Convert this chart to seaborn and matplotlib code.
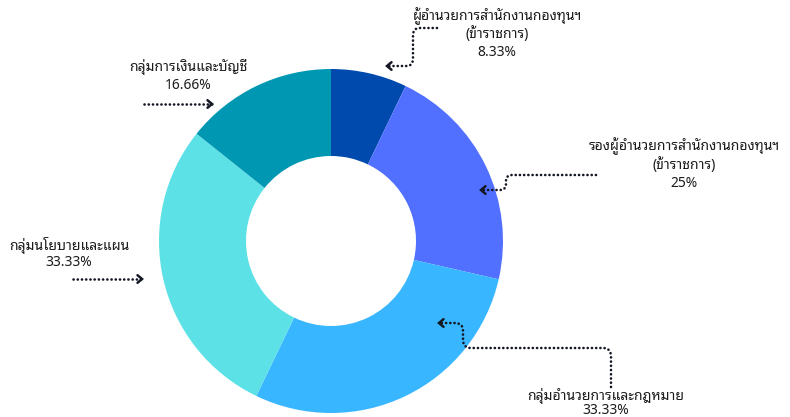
import matplotlib
matplotlib.use("Agg")
import matplotlib.pyplot as plt
from matplotlib.path import Path
from matplotlib.patches import PathPatch
import numpy as np
import seaborn as sns

# ---- data ----
categories = ["ผู้อำนวยการสำนักงานกองทุนฯ\n(ข้าราชการ)",
              "รองผู้อำนวยการสำนักงานกองทุนฯ\n(ข้าราชการ)",
              "กลุ่มอำนวยการและกฎหมาย",
              "กลุ่มนโยบายและแผน",
              "กลุ่มการเงินและบัญชี"]
values = [8.33, 25, 33.33, 33.33, 16.66]
value_labels = ["8.33%", "25%", "33.33%", "33.33%", "16.66%"]
colors = ["#004aad", "#5170ff", "#38b6ff", "#5ce1e6", "#0097b2"]

sns.set_theme(style="white")
plt.rcParams["font.family"] = ["Noto Sans Thai Looped", "DejaVu Sans"]
palette = sns.color_palette(colors)

W, H = 790, 417
fig = plt.figure(figsize=(W / 100, H / 100), dpi=100)
ax = fig.add_axes([0, 0, 1, 1])


def P(x, y):
    return (x, H - y)


cx, cy = P(331, 241)
ax.pie(values, colors=palette, startangle=90, counterclock=False,
       center=(cx, cy), radius=172,
       wedgeprops=dict(width=87, linewidth=0), frame=True)
ax.set_xlim(0, W)
ax.set_ylim(0, H)
ax.set_aspect("equal")
ax.axis("off")

INK = "#141824"
TXT = "#1c1c1c"
FS = 10


def rounded_path(pts, r=6):
    pts = [np.array(P(*p), float) for p in pts]
    verts = [pts[0]]
    codes = [Path.MOVETO]
    for i in range(1, len(pts) - 1):
        a, b, c = pts[i - 1], pts[i], pts[i + 1]
        d1 = (b - a) / np.linalg.norm(b - a)
        d2 = (c - b) / np.linalg.norm(c - b)
        rr = min(r, np.linalg.norm(b - a) / 2, np.linalg.norm(c - b) / 2)
        verts += [b - d1 * rr, b, b + d2 * rr]
        codes += [Path.LINETO, Path.CURVE3, Path.CURVE3]
    verts.append(pts[-1])
    codes.append(Path.LINETO)
    return Path(verts, codes)


def dotted_arrow(pts, r=6):
    path = rounded_path(pts, r)
    patch = PathPatch(path, fill=False, edgecolor=INK, linewidth=1.9,
                      linestyle=(0, (0.05, 1.55)), capstyle="round")
    ax.add_patch(patch)
    tip = np.array(P(*pts[-1]), float)
    prev = np.array(P(*pts[-2]), float)
    d = (tip - prev) / np.linalg.norm(tip - prev)
    n = np.array([-d[1], d[0]])
    a = tip - d * 4.5 + n * 3.8
    b = tip - d * 4.5 - n * 3.8
    ax.plot([a[0], tip[0], b[0]], [a[1], tip[1], b[1]], color=INK, lw=1.8,
            solid_joinstyle="miter", solid_capstyle="round")


def label(lines, x, ys):
    for s, y in zip(lines, ys):
        ax.text(*P(x, y), s, ha="center", va="center", fontsize=FS, color=TXT)


# labels
label(categories[0].split("\n") + [value_labels[0]], 497, [16, 34, 52])
label(categories[1].split("\n") + [value_labels[1]], 684, [146, 165, 183])
label([categories[2], value_labels[2]], 606, [396, 410])
label([categories[3], value_labels[3]], 69, [245, 262])
label([categories[4], value_labels[4]], 188, [67, 85])

# connector arrows
dotted_arrow([(437, 28), (413, 28), (413, 66), (387, 66)], r=7)
dotted_arrow([(596, 175), (506, 175), (506, 190), (481, 190)], r=6)
dotted_arrow([(611, 387), (611, 348), (463, 348), (463, 323), (439, 323)], r=8)
dotted_arrow([(73, 279), (142, 279)])
dotted_arrow([(144, 104), (212, 104)])

fig.savefig("out.png", dpi=100)
